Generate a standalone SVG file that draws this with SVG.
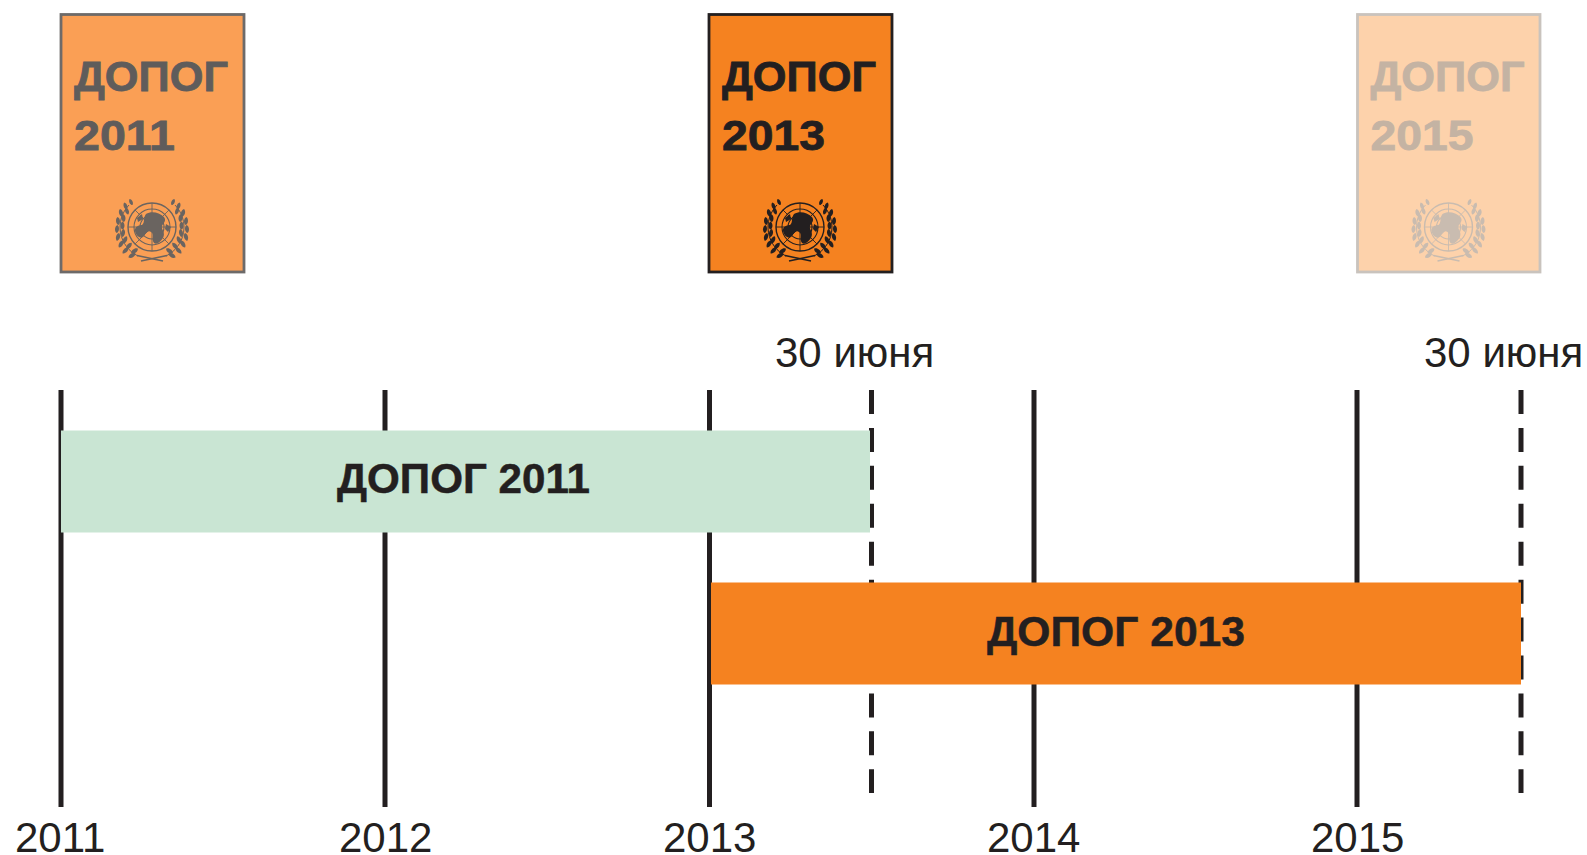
<svg xmlns="http://www.w3.org/2000/svg" xmlns:xlink="http://www.w3.org/1999/xlink" width="1587" height="855" viewBox="0 0 1587 855">
<style>
text{font-family:"Liberation Sans",Arial,sans-serif;fill:#231f20}
.yr{font-size:42px}
.bar{font-size:42px;font-weight:bold;stroke:#231f20;stroke-width:.5}
.ct{font-size:43px;font-weight:bold;stroke-width:.8}
.tick{stroke:#231f20;stroke-width:5;fill:none}
.dash{stroke:#231f20;stroke-width:5;fill:none;stroke-dasharray:24 13.93}
.cover{stroke-width:2.8}
.g1{fill:#5f5c5b;stroke:#5f5c5b}
.g2{fill:#231f20;stroke:#231f20}
.g3{fill:#c4b3a3;stroke:#c4b3a3}
</style>
<defs>
<path id="leaf" fill="currentColor" d="M0-3.400C2.200-2 2.200 2 0 3.400C-2.200 2-2.200-2 0-3.400Z"/>
<g id="wreathR">
<path fill="none" stroke="currentColor" stroke-width="1" d="M23-22A32 32 0 0 1 14 29"/>
<use href="#leaf" transform="translate(21 -25) rotate(25)"/>
<use href="#leaf" transform="translate(26.500 -21) rotate(20) scale(1.1)"/>
<use href="#leaf" transform="translate(25 -16) rotate(20) scale(1.1)"/>
<use href="#leaf" transform="translate(31 -14) rotate(15) scale(1.2)"/>
<use href="#leaf" transform="translate(28.500 -9) rotate(5) scale(1.2)"/>
<use href="#leaf" transform="translate(34 -6) rotate(5) scale(1.2)"/>
<use href="#leaf" transform="translate(29.500 -1.500) rotate(0) scale(1.2)"/>
<use href="#leaf" transform="translate(35 2) rotate(-5) scale(1.2)"/>
<use href="#leaf" transform="translate(29 6) rotate(-10) scale(1.2)"/>
<use href="#leaf" transform="translate(34 10) rotate(-15) scale(1.2)"/>
<use href="#leaf" transform="translate(27 13) rotate(-25) scale(1.2)"/>
<use href="#leaf" transform="translate(31 17) rotate(-30) scale(1.2)"/>
<use href="#leaf" transform="translate(23 19) rotate(-40) scale(1.2)"/>
<use href="#leaf" transform="translate(26.500 23.500) rotate(-45) scale(1.2)"/>
<use href="#leaf" transform="translate(17.500 24) rotate(-55) scale(1.2)"/>
<use href="#leaf" transform="translate(20 28.500) rotate(-60) scale(1.2)"/>
<path fill="none" stroke="currentColor" stroke-width="1.600" d="M15 28.500L-11 34"/>
</g>
<g id="emblem">
<g fill="none" stroke="currentColor">
<circle r="24" stroke-width="1.4"/>
<circle r="18" stroke-width="1.1"/>
<circle r="12" stroke-width="1.1"/>
<path d="M0-24V24M-24 0H24M-17-17L17 17M17-17L-17 17" stroke-width=".9"/>
</g>
<path fill="currentColor" d="M-6-13C-1-16 7-15 12-10C15-6 11-4 10-1C9 3 14 5 11 11C8 15 5 18 2 16C-1 12 3 7-1 5C-4 3-6 6-8 9C-11 13-16 9-17 4C-18 0-13-2-10-2C-7-4-9-9-6-13Z"/>
<path fill="currentColor" d="M-15-9L-10-13L-9-8L-14-5Z M14-3L19 0L16 5L13 2Z"/>
<use href="#wreathR"/>
<use href="#wreathR" transform="scale(-1 1)"/>
</g>
</defs>

<g id="connectors">
<path class="tick" d="M61 390V807"/>
<path class="tick" d="M385 390V807"/>
<path class="tick" d="M709.500 390V807"/>
<path class="tick" d="M1034 390V807"/>
<path class="tick" d="M1357 390V807"/>
<path class="dash" d="M871.500 390V793"/>
<path class="dash" d="M1521 390V793"/>
</g>

<g id="cover-2011">
<rect class="cover" x="61" y="14.500" width="183" height="257.500" fill="#fa9f55" stroke="#6d6a69"/>
<text class="ct g1" x="74" y="91" textLength="154" lengthAdjust="spacingAndGlyphs">ДОПОГ</text>
<text class="ct g1" x="74" y="150" textLength="101" lengthAdjust="spacingAndGlyphs">2011</text>
<use href="#emblem" x="152" y="227" color="#6a6460"/>
</g>
<g id="cover-2013">
<rect class="cover" x="709" y="14.500" width="183" height="257.500" fill="#f58220" stroke="#231f20"/>
<text class="ct g2" x="722" y="91" textLength="154" lengthAdjust="spacingAndGlyphs">ДОПОГ</text>
<text class="ct g2" x="722" y="150" textLength="103" lengthAdjust="spacingAndGlyphs">2013</text>
<use href="#emblem" x="800" y="227" color="#231f20"/>
</g>
<g id="cover-2015">
<rect class="cover" x="1357.500" y="14.500" width="182.500" height="257.500" fill="#fdd2ab" stroke="#c9c3bd"/>
<text class="ct g3" x="1370.500" y="91" textLength="154" lengthAdjust="spacingAndGlyphs">ДОПОГ</text>
<text class="ct g3" x="1370.500" y="150" textLength="103" lengthAdjust="spacingAndGlyphs">2015</text>
<use href="#emblem" x="1448.500" y="227" color="#c9bcb0"/>
</g>

<g id="bar-2011">
<rect x="61" y="430.500" width="809" height="102" fill="#c9e5d3"/>
<text class="bar" x="337" y="493" textLength="253" lengthAdjust="spacingAndGlyphs">ДОПОГ 2011</text>
</g>
<g id="bar-2013">
<rect x="711" y="582.500" width="810" height="102" fill="#f58220"/>
<text class="bar" x="987" y="646" textLength="258" lengthAdjust="spacingAndGlyphs">ДОПОГ 2013</text>
</g>

<g id="labels">
<text class="yr" x="775" y="367">30 июня</text>
<text class="yr" x="1424" y="367">30 июня</text>
<text class="yr" x="15" y="852">2011</text>
<text class="yr" x="339" y="852">2012</text>
<text class="yr" x="663" y="852">2013</text>
<text class="yr" x="987" y="852">2014</text>
<text class="yr" x="1311" y="852">2015</text>
</g>
</svg>
